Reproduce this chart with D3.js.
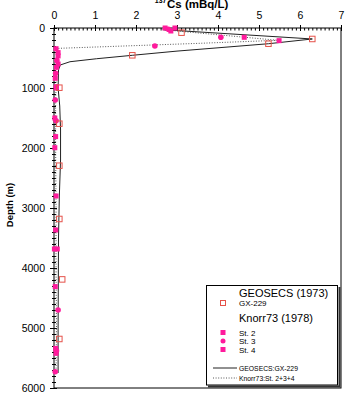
<!DOCTYPE html>
<html lang="en">
<head>
<meta charset="utf-8">
<title>137Cs depth profile</title>
<script src="https://d3js.org/d3.v7.min.js"></script>
<style>
  body { margin: 0; background: #fff; }
  text { font-family: "Liberation Sans", Arial, sans-serif; fill: #000; }
</style>
</head>
<body>
<div id="vis"></div>
<script>
// ---- data (Cs in mBq/L, depth in m) ----
const xTicks = [0, 1, 2, 3, 4, 5, 6, 7];
const yTicks = [0, 1000, 2000, 3000, 4000, 5000, 6000];

const gxCs    = [3.11, 6.30, 5.23, 1.91, 0.13, 0.13, 0.13, 0.13, 0.20, 0.13];
const gxDepth = [78, 183, 262, 455, 995, 1595, 2295, 3183, 4190, 5183];

const st2Cs    = [2.71, 2.95, 4.64, 0.05, 0.10, 0.06, 0.03, 0.05, 0.02, 0.04, 0.05, 0.01, 0.03, 0.04];
const st2Depth = [0, 0, 155, 345, 465, 655, 838, 1000, 1500, 1810, 2800, 3683, 4310, 5340];

const st3Cs    = [2.79, 4.07, 2.46, 0.07, 0.04, 0.03, 0.05, 0.10, 0.06, 0.03];
const st3Depth = [20, 155, 300, 540, 755, 1200, 1545, 4700, 5378, 5728];

const st4Cs    = [2.85, 5.49, 0.10, 0.10, 0.06, 0.02, 0.04, 0.08, 0.05];
const st4Depth = [50, 211, 410, 600, 978, 1995, 3367, 3683, 5422];

// fitted profiles
const fitGxCs    = [2.65, 6.30, 5.23, 4.00, 3.00, 1.91, 1.04, 0.39, 0.15, 0.11, 0.10, 0.14, 0.16, 0.16, 0.13, 0.11, 0.10, 0.10];
const fitGxDepth = [28, 183, 262, 330, 385, 455, 512, 562, 617, 700, 1000, 1300, 1700, 2200, 2800, 3500, 5000, 5750];

const fitKnCs    = [2.75, 4.66, 5.46, 3.56, 0.15, 0.05, 0.08, 0.06, 0.04, 0.04, 0.05, 0.05, 0.06, 0.05];
const fitKnDepth = [33, 155, 205, 255, 338, 345, 500, 800, 1200, 2000, 3000, 4000, 5000, 5700];

const width = 348, height = 394;
const mLeft = 54, mRight = 341, mTop = 28, mBottom = 388;
const pink = "#ff1a9c", salmon = "#e5524a";

const svg = d3.select("#vis").append("svg")
    .attr("width", width)
    .attr("height", height);

const x = d3.scaleLinear().domain([0, 7]).range([mLeft, mRight]);
const y = d3.scaleLinear().domain([0, 6000]).range([mTop, mBottom]);

// frame
svg.append("rect")
   .attr("x", mLeft).attr("y", mTop)
   .attr("width", mRight - mLeft).attr("height", mBottom - mTop)
   .attr("fill", "none").attr("stroke", "#000").attr("stroke-width", 1);

// top axis: minor ticks inside, majors crossing
svg.append("g")
   .attr("transform", "translate(0," + mTop + ")")
   .call(d3.axisTop(x).ticks(70).tickSize(-2.5).tickFormat(""))
   .call(g => g.select(".domain").remove());
const topAx = svg.append("g")
   .attr("transform", "translate(0," + mTop + ")")
   .call(d3.axisTop(x).tickValues(xTicks).tickSize(3).tickPadding(6).tickFormat(d3.format("d")));
topAx.select(".domain").remove();
topAx.selectAll("text").attr("font-size", 10.5).attr("font-family", "Liberation Sans, Arial");
topAx.selectAll(".tick line").attr("y2", -3).attr("y1", 3);

// left axis
svg.append("g")
   .attr("transform", "translate(" + mLeft + ",0)")
   .call(d3.axisLeft(y).ticks(60).tickSize(2).tickFormat(""))
   .call(g => g.select(".domain").remove())
   .call(g => g.selectAll(".tick line").attr("x1", 2));
const leftAx = svg.append("g")
   .attr("transform", "translate(" + mLeft + ",0)")
   .call(d3.axisLeft(y).tickValues(yTicks).tickSize(4).tickPadding(5).tickFormat(d3.format("d")));
leftAx.select(".domain").remove();
leftAx.selectAll(".tick line").attr("x1", 3);
leftAx.selectAll("text").attr("font-size", 10.5).attr("font-family", "Liberation Sans, Arial");

// title (superscript as its own text so they do not overlap)
svg.append("text")
   .attr("x", 167).attr("y", 7.5)
   .attr("font-weight", "bold").attr("font-size", 11.5)
   .text("Cs (mBq/L)");
svg.append("text")
   .attr("x", 166.5).attr("y", 2.5)
   .attr("text-anchor", "end")
   .attr("font-weight", "bold").attr("font-size", 7)
   .text("137");

svg.append("text")
   .attr("transform", "translate(13,205) rotate(-90)")
   .attr("text-anchor", "middle")
   .attr("font-weight", "bold").attr("font-size", 9.5)
   .text("Depth (m)");

// lines
const line = d3.line().x(d => x(d[0])).y(d => y(d[1]));
svg.append("path")
   .datum(d3.zip(fitGxCs, fitGxDepth))
   .attr("d", line)
   .attr("fill", "none").attr("stroke", "#222").attr("stroke-width", 1);
svg.append("path")
   .datum(d3.zip(fitKnCs, fitKnDepth))
   .attr("d", line)
   .attr("fill", "none").attr("stroke", "#444").attr("stroke-width", 0.9)
   .attr("stroke-dasharray", "1,1.6");

// markers
function squares(cs, depth, s) {
  svg.append("g").selectAll("rect")
     .data(d3.zip(cs, depth)).join("rect")
     .attr("x", d => x(d[0]) - s / 2).attr("y", d => y(d[1]) - s / 2)
     .attr("width", s).attr("height", s)
     .attr("fill", pink);
}
squares(st2Cs, st2Depth, 5);
squares(st4Cs, st4Depth, 5);
svg.append("g").selectAll("circle")
   .data(d3.zip(st3Cs, st3Depth)).join("circle")
   .attr("cx", d => x(d[0])).attr("cy", d => y(d[1]))
   .attr("r", 2.8).attr("fill", pink);
svg.append("g").selectAll("rect")
   .data(d3.zip(gxCs, gxDepth)).join("rect")
   .attr("x", d => x(d[0]) - 2.75).attr("y", d => y(d[1]) - 2.75)
   .attr("width", 5.5).attr("height", 5.5)
   .attr("fill", "none").attr("stroke", salmon).attr("stroke-width", 1);

// legend
const lg = svg.append("g");
lg.append("path").attr("d", "M208,386.5 H339.5 V287").attr("fill", "none").attr("stroke", "#333").attr("stroke-width", 2);
lg.append("rect").attr("x", 206.5).attr("y", 285.5).attr("width", 131).attr("height", 99.5)
  .attr("fill", "#fff").attr("stroke", "#000").attr("stroke-width", 1);

lg.append("text").attr("x", 239).attr("y", 297).attr("font-size", 11).text("GEOSECS (1973)");
lg.append("rect").attr("x", 220.5).attr("y", 300.5).attr("width", 5).attr("height", 5)
  .attr("fill", "none").attr("stroke", salmon);
lg.append("text").attr("x", 239).attr("y", 306).attr("font-size", 8).text("GX-229");

lg.append("text").attr("x", 239).attr("y", 322).attr("font-size", 11).text("Knorr73 (1978)");
lg.append("rect").attr("x", 220.5).attr("y", 330).attr("width", 5).attr("height", 5).attr("fill", pink);
lg.append("text").attr("x", 239).attr("y", 335.5).attr("font-size", 8).text("St. 2");
lg.append("circle").attr("cx", 223).attr("cy", 341).attr("r", 2.5).attr("fill", pink);
lg.append("text").attr("x", 239).attr("y", 344).attr("font-size", 8).text("St. 3");
lg.append("rect").attr("x", 220.5).attr("y", 347).attr("width", 5).attr("height", 5).attr("fill", pink);
lg.append("text").attr("x", 239).attr("y", 352.5).attr("font-size", 8).text("St. 4");

lg.append("line").attr("x1", 213).attr("x2", 237).attr("y1", 368).attr("y2", 368)
  .attr("stroke", "#222").attr("stroke-width", 1);
lg.append("text").attr("x", 239).attr("y", 370.5).attr("font-size", 6.8).text("GEOSECS:GX-229");
lg.append("line").attr("x1", 213).attr("x2", 237).attr("y1", 378).attr("y2", 378)
  .attr("stroke", "#444").attr("stroke-width", 0.9).attr("stroke-dasharray", "1,1.6");
lg.append("text").attr("x", 239).attr("y", 380.5).attr("font-size", 6.8).text("Knorr73:St. 2+3+4");
</script>
</body>
</html>
